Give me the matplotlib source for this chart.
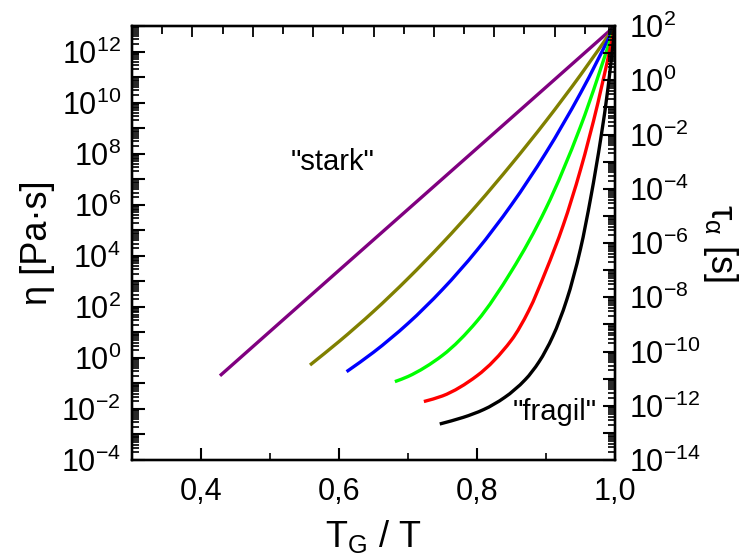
import numpy as np
import matplotlib
matplotlib.use("Agg")
import matplotlib.pyplot as plt
from matplotlib.path import Path
from matplotlib.patches import PathPatch
from matplotlib.ticker import LogLocator, FixedLocator, MultipleLocator, NullFormatter, FuncFormatter

plt.rcParams['font.family'] = ['Liberation Sans', 'DejaVu Sans']
plt.rcParams['mathtext.fontset'] = 'custom'
plt.rcParams['mathtext.rm'] = 'Liberation Sans'
plt.rcParams['mathtext.it'] = 'Liberation Sans:italic'

# ---- data: x = T_G/T, y = log10(eta / Pa s) ----
purple_x = [0.4275, 0.60, 0.80, 1.0]
purple_y = [-0.70, 3.43, 8.21, 13.0]

olive_x = [0.558, 0.60, 0.65, 0.70, 0.75, 0.80, 0.85, 0.90, 0.95, 1.0]
olive_y = [-0.28, 0.64, 1.82, 3.11, 4.50, 5.99, 7.59, 9.28, 11.08, 13.0]

blue_x = [0.611, 0.65, 0.70, 0.75, 0.80, 0.85, 0.90, 0.95, 1.0]
blue_y = [-0.54, 0.22, 1.35, 2.68, 4.22, 6.00, 8.04, 10.37, 13.0]

green_x = [0.681, 0.70, 0.75, 0.80, 0.85, 0.90, 0.95, 1.0]
green_y = [-0.93, -0.73, 0.10, 1.44, 3.40, 5.86, 9.06, 13.0]

red_x = [0.723, 0.75, 0.80, 0.85, 0.875, 0.90, 0.925, 0.95, 0.975, 1.0]
red_y = [-1.71, -1.49, -0.70, 0.70, 1.85, 3.42, 5.20, 7.37, 9.96, 13.0]

black_x = [0.746, 0.78, 0.81, 0.84, 0.87, 0.89, 0.91, 0.93, 0.95, 0.965, 0.98, 0.99, 1.0]
black_y = [-2.59, -2.33, -2.02, -1.55, -0.85, -0.15, 0.85, 2.27, 4.27, 6.30, 8.70, 10.60, 13.0]

series = [
    (purple_x, purple_y, (0.5, 0.0, 0.5)),
    (olive_x, olive_y, (0.5, 0.5, 0.0)),
    (blue_x, blue_y, (0.0, 0.0, 1.0)),
    (green_x, green_y, (0.0, 1.0, 0.0)),
    (red_x, red_y, (1.0, 0.0, 0.0)),
    (black_x, black_y, (0.0, 0.0, 0.0)),
]

x_ticks = [0.4, 0.6, 0.8, 1.0]
x_ticklabels = ['0,4', '0,6', '0,8', '1,0']


def smooth_path(xs, ys):
    """Bezier path through the read points (monotone Hermite tangents),
    built in (x, log10 y) space and handed to the axes' own transform."""
    x = np.asarray(xs, float)
    y = np.asarray(ys, float)
    h = np.diff(x)
    d = np.diff(y) / h
    n = len(x)
    m = np.zeros(n)
    m[0], m[-1] = d[0], d[-1]
    for k in range(1, n - 1):
        if d[k - 1] * d[k] > 0:
            w1 = 2 * h[k] + h[k - 1]
            w2 = h[k] + 2 * h[k - 1]
            m[k] = (w1 + w2) / (w1 / d[k - 1] + w2 / d[k])
    verts = [(x[0], 10.0 ** y[0])]
    codes = [Path.MOVETO]
    for k in range(n - 1):
        p1 = (x[k] + h[k] / 3, 10.0 ** (y[k] + m[k] * h[k] / 3))
        p2 = (x[k + 1] - h[k] / 3, 10.0 ** (y[k + 1] - m[k + 1] * h[k] / 3))
        p3 = (x[k + 1], 10.0 ** y[k + 1])
        verts += [p1, p2, p3]
        codes += [Path.CURVE4] * 3
    return Path(verts, codes)


fig = plt.figure(figsize=(7.41, 5.60), dpi=100)
ax = fig.add_axes([132/741, 100/560, 483/741, 434/560])
ax.set_yscale('log')
ax.set_xlim(0.3, 1.0)
ax.set_ylim(1e-4, 1e13)

for xs, ys, c in series:
    patch = PathPatch(smooth_path(xs, ys), facecolor='none', edgecolor=c,
                      lw=2.4, capstyle='butt', joinstyle='round',
                      transform=ax.transData)
    ax.add_patch(patch)


def exp_label(v, pos):
    e = int(round(np.log10(v)))
    if e % 2:
        return ''
    return r'$\mathregular{10^{%d}}$' % e


ax.yaxis.set_major_locator(LogLocator(base=10, numticks=30))
ax.yaxis.set_major_formatter(FuncFormatter(exp_label))
ax.yaxis.set_minor_locator(LogLocator(base=10, subs=np.arange(2, 10), numticks=30))
ax.yaxis.set_minor_formatter(NullFormatter())

ax.xaxis.set_major_locator(FixedLocator(x_ticks))
ax.set_xticklabels(x_ticklabels)
ax.xaxis.set_minor_locator(MultipleLocator(0.1))

ax.tick_params(axis='both', which='major', direction='in', length=9, width=1.5,
               labelsize=22, top=False, right=False)
ax.tick_params(axis='both', which='minor', direction='in', length=5, width=1.2,
               top=False, right=False)
ax.tick_params(axis='y', which='major', pad=8)
ax.tick_params(axis='x', which='major', pad=12)

for s in ax.spines.values():
    s.set_linewidth(1.6)

ax.set_xlabel(r'T$_\mathregular{G}$ / T', fontsize=26, labelpad=8)
ax.set_ylabel('η [Pa·s]', fontsize=26, labelpad=4)

# right axis: tau_alpha
ax2 = ax.twinx()
ax2.set_yscale('log')
ax2.set_ylim(1e-14, 1e2)
ax2.yaxis.set_major_locator(LogLocator(base=10, numticks=30))
ax2.yaxis.set_major_formatter(FuncFormatter(exp_label))
ax2.yaxis.set_minor_locator(LogLocator(base=10, subs=np.arange(2, 10), numticks=30))
ax2.yaxis.set_minor_formatter(NullFormatter())
ax2.tick_params(axis='y', which='major', direction='in', length=9, width=1.5,
                labelsize=22, pad=10)
ax2.tick_params(axis='y', which='minor', direction='in', length=5, width=1.2)
ax2.set_ylabel(r'τ$_\mathregular{α}$ [s]', fontsize=26, rotation=270, labelpad=28)
for s in ax2.spines.values():
    s.set_linewidth(1.6)

# top axis ticks
ax3 = ax.twiny()
ax3.set_xlim(0, 16)
ax3.xaxis.set_major_locator(MultipleLocator(2))
ax3.xaxis.set_minor_locator(MultipleLocator(1))
ax3.tick_params(axis='x', which='major', direction='in', length=8, width=1.3, labeltop=False)
ax3.tick_params(axis='x', which='minor', direction='in', length=6, width=1.3)
for s in ax3.spines.values():
    s.set_linewidth(1.6)

ax.text(0.591, 4.7e7, '"stark"', fontsize=21, ha='center', va='center')
ax.text(0.913, 7.8e-3, '"fragil"', fontsize=21, ha='center', va='center')

fig.savefig('out.png', dpi=100)
